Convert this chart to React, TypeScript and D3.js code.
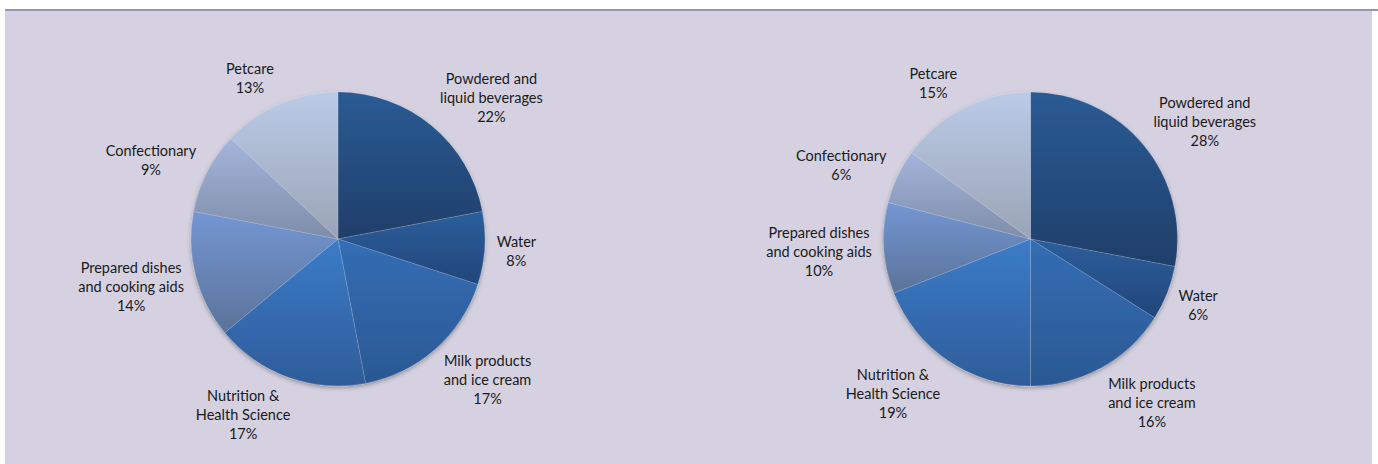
import React from "react";
import * as d3 from "d3";

const categories = [
  "Powdered and liquid beverages",
  "Water",
  "Milk products and ice cream",
  "Nutrition & Health Science",
  "Prepared dishes and cooking aids",
  "Confectionary",
  "Petcare",
];
const labelLines = [
  ["Powdered and", "liquid beverages"],
  ["Water"],
  ["Milk products", "and ice cream"],
  ["Nutrition &", "Health Science"],
  ["Prepared dishes", "and cooking aids"],
  ["Confectionary"],
  ["Petcare"],
];
const valuesLeft = [22, 8, 17, 17, 14, 9, 13];
const valuesRight = [28, 6, 16, 19, 10, 6, 15];

const topColors = ["#2B5B94", "#2C5E9C", "#346EB5", "#3B7CC9", "#7396D3", "#A3B5DC", "#BBCBE7"];
const bottomColors = ["#1F3E6A", "#22467A", "#2B5893", "#2E5C99", "#5B7399", "#7F8DA8", "#9AA4B6"];

const W = 1378;
const H = 464;
const R = 147;
const FONT = "Lato, 'Open Sans', sans-serif";
const FS = 14.5;
const LH = 19;

let ctx: CanvasRenderingContext2D | null = null;
function measure(t: string) {
  if (!ctx) {
    const c = document.createElement("canvas");
    ctx = c.getContext("2d");
  }
  if (!ctx) return t.length * 7;
  ctx.font = `${FS}px Lato`;
  return ctx.measureText(t).width;
}

function Pie({ cx, cy, values, id }: { cx: number; cy: number; values: number[]; id: string }) {
  const pie = d3.pie<number>().sort(null).value((d) => d);
  const arcs = pie(values);
  const arc = d3.arc<d3.PieArcDatum<number>>().innerRadius(0).outerRadius(R);
  const total = d3.sum(values);
  return (
    <g transform={`translate(${cx},${cy})`}>
      <defs>
        {arcs.map((a, i) => (
          <linearGradient key={i} id={`${id}-g${i}`} x1="0" y1="0" x2="0" y2="1">
            <stop offset="0" stopColor={topColors[i]} />
            <stop offset="1" stopColor={bottomColors[i]} />
          </linearGradient>
        ))}
      </defs>
      <g filter="url(#shadow)">
        {arcs.map((a, i) => (
          <path key={i} d={arc(a) || ""} fill={`url(#${id}-g${i})`} stroke="rgba(255,255,255,0.25)" strokeWidth={0.6} />
        ))}
      </g>
      {arcs.map((a, i) => {
        const lines = [...labelLines[i], `${Math.round((a.value / total) * 100)}%`];
        const mid = (a.startAngle + a.endAngle) / 2;
        const ux = Math.sin(mid);
        const uy = -Math.cos(mid);
        const w = (d3.max(lines, (l) => measure(l)) || 0) + 4;
        const h = lines.length * LH;
        const ax = (R + 10) * ux;
        const ay = (R + 10) * uy;
        const sx = Math.max(-1, Math.min(1, ux * 2.5));
        const lx = ax + (sx * w) / 2;
        const ly = ay + (uy * h) / 2;
        return (
          <text key={i} textAnchor="middle" fontFamily={FONT} fontSize={FS} fill="#1a1a1a">
            {lines.map((l, j) => (
              <tspan key={j} x={lx} y={ly - h / 2 + LH * j + 16}>
                {l}
              </tspan>
            ))}
          </text>
        );
      })}
    </g>
  );
}

export default function App() {
  return (
    <svg width={W} height={H} style={{ position: "absolute", left: 0, top: 0, display: "block" }}>
      <defs>
        <filter id="shadow" x="-20%" y="-20%" width="140%" height="140%">
          <feDropShadow dx="0" dy="2" stdDeviation="2" floodColor="#000" floodOpacity="0.3" />
        </filter>
      </defs>
      <rect x={0} y={0} width={W} height={H} fill="#ffffff" />
      <rect x={5} y={10} width={1367} height={H - 10} fill="#D5D1E1" />
      <rect x={5} y={9} width={W - 5} height={2} fill="#9A92B8" />
      <Pie cx={338} cy={239} values={valuesLeft} id="p1" />
      <Pie cx={1030.5} cy={239} values={valuesRight} id="p2" />
    </svg>
  );
}
